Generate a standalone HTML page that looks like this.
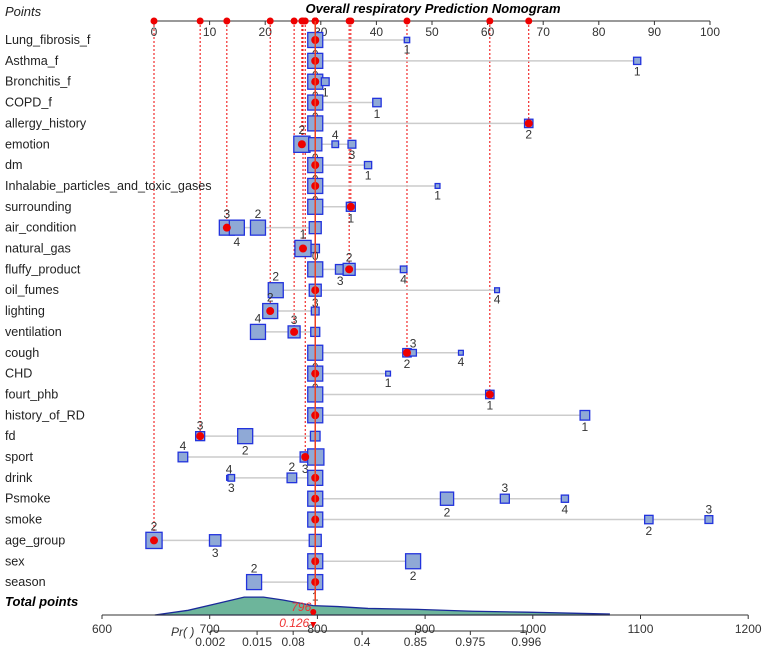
<!DOCTYPE html>
<html><head><meta charset="utf-8"><style>
body{margin:0;background:#fff}
svg{display:block;font-family:"Liberation Sans",sans-serif}
</style></head><body>
<svg id="c" width="767" height="650"></svg>
<script>
const rowNames=["Lung_fibrosis_f","Asthma_f","Bronchitis_f","COPD_f","allergy_history","emotion","dm","Inhalabie_particles_and_toxic_gases","surrounding","air_condition","natural_gas","fluffy_product","oil_fumes","lighting","ventilation","cough","CHD","fourt_phb","history_of_RD","fd","sport","drink","Psmoke","smoke","age_group","sex","season"];
// levels per row: [label, points, size(0-1), labelPos(1 below,-1 above,0 none)]
const rowLevels=[
[["0",29,1,1],["1",45.5,0.2,1]],
[["0",29,1,1],["1",86.9,0.35,1]],
[["0",29,1,1],["1",30.8,0.4,1]],
[["0",29,1,1],["1",40.1,0.45,1]],
[["1",29,1,0],["2",67.4,0.45,1]],
[["2",26.6,1.1,-1],["0",29,0.85,1],["4",32.6,0.3,-1],["3",35.6,0.4,1]],
[["0",29,1,1],["1",38.5,0.35,1]],
[["0",29,1,1],["1",51,0.15,1]],
[["0",29,1,0],["1",35.4,0.5,1]],
[["3",13.1,1,-1],["4",14.9,1,1],["2",18.7,1,-1],["1",29,0.75,0]],
[["1",26.8,1.1,-1],["0",29,0.45,0]],
[["0",29,1,-1],["3",33.5,0.55,1],["2",35.1,0.75,-1],["4",44.9,0.3,1]],
[["2",21.9,1,-1],["3",29,0.75,1],["4",61.7,0.15,1]],
[["2",20.9,1,-1],["1",29,0.4,0]],
[["4",18.7,1,-1],["3",25.2,0.75,-1],["1",29,0.5,0]],
[["0",29,1,1],["2",45.5,0.45,1],["3",46.6,0.3,-1],["4",55.2,0.15,1]],
[["0",29,1,1],["1",42.1,0.15,1]],
[["0",29,1,0],["1",60.4,0.45,1]],
[["0",29,1,0],["1",77.5,0.55,1]],
[["3",8.3,0.5,-1],["2",16.4,1,1],["1",29,0.55,0]],
[["4",5.2,0.55,-1],["3",27.2,0.6,1],["2",29.1,1.1,0]],
[["4",13.5,0.15,-1],["3",13.9,0.3,1],["2",24.8,0.55,-1],["1",29,1,0]],
[["1",29,1,0],["2",52.7,0.85,1],["3",63.1,0.5,-1],["4",73.9,0.35,1]],
[["1",29,1,0],["2",89,0.45,1],["3",99.8,0.4,-1]],
[["2",0,1.1,-1],["3",11,0.7,1],["1",29,0.75,0]],
[["1",29,1,0],["2",46.6,1,1]],
[["2",18,1,-1],["1",29,1,1]]];
const redPoints=[29,29,29,29,67.4,26.6,29,29,35.4,13.1,26.8,35.1,29,20.9,25.2,45.5,29,60.4,29,8.3,27.2,29,29,29,0,29,29];
const pointTicks=[0,10,20,30,40,50,60,70,80,90,100];
const totalTicks=[600,700,800,900,1000,1100,1200];
const prTicks=["0.002","0.015","0.08","0.4","0.85","0.975","0.996"];
const prPos=[700.5,744,777.5,841.5,891,942,994];
const densX=[649,680,708,732,750,768,782,796,819,847,893,944,995,1071];
const densY=[0,0.1,0.25,0.38,0.38,0.32,0.26,0.2,0.18,0.14,0.12,0.08,0.06,0.02];
const totalValue=796, prValue="0.126";

const S=document.getElementById('c'),NS="http://www.w3.org/2000/svg";
function el(t,a,txt){const e=document.createElementNS(NS,t);for(const k in a)e.setAttribute(k,a[k]);if(txt!=null)e.textContent=txt;S.appendChild(e);return e;}
const px=p=>154+p*5.56, ry=i=>40+i*20.85, tx=v=>102+(v-600)*1.077, dy=d=>615-d*47;
const AY=21;
let t=el('text',{x:5,y:16,'font-size':13,'font-style':'italic',fill:'#222'},"Points");

t=el('text',{x:433,y:13,'font-size':13,'font-weight':'bold','font-style':'italic','text-anchor':'middle'},"Overall respiratory Prediction Nomogram");

let l=el('line',{x1:px(0),x2:px(100),y1:AY,y2:AY,stroke:'#333'});

pointTicks.forEach(v=>{
 el('line',{x1:px(v),x2:px(v),y1:AY,y2:AY+4,stroke:'#333'});
 const e=el('text',{x:px(v),y:36,'font-size':12,'text-anchor':'middle',fill:'#333'},v);
 
});
redPoints.forEach((p,i)=>{
 const d=el('line',{x1:px(p),x2:px(p),y1:AY,y2:ry(i),stroke:'#e00','stroke-dasharray':'2,2','stroke-width':1});
 
});
rowNames.forEach((n,i)=>{
 const y=ry(i);
 const e=el('text',{x:5,y:y+4,'font-size':12.6,fill:'#222'},n);
 
 const lv=rowLevels[i];const xs=lv.map(a=>px(a[1]));
 el('line',{x1:Math.min(...xs),x2:Math.max(...xs),y1:y,y2:y,stroke:'#ccc','stroke-width':1.5});
 lv.forEach(a=>{
  const s=3+a[2]*12,x=px(a[1]);
  const r=el('rect',{x:x-s/2,y:y-s/2,width:s,height:s,fill:'#8fa9d6',stroke:'#2233dd','stroke-width':1.3});
  
  if(a[3]){const lb=el('text',{x:x,y:a[3]>0?y+s/2+11:y-s/2-2,'font-size':12,'text-anchor':'middle',fill:'#333'},a[0]);
   }
 });
 const dot=el('circle',{cx:px(redPoints[i]),cy:y,r:4,fill:'#e00'});
 
 const ad=el('circle',{cx:px(redPoints[i]),cy:AY,r:3.5,fill:'#e00'});
 
});
l=el('line',{x1:px(29),x2:px(29),y1:AY,y2:615,stroke:'#f04020','stroke-width':1.5});

t=el('text',{x:5,y:606,'font-size':13,'font-weight':'bold','font-style':'italic'},"Total points");

let pts=densX.map((v,i)=>tx(v)+','+dy(densY[i])).join(' ');
const dp=el('polygon',{points:tx(densX[0])+',615 '+pts+' '+tx(densX[densX.length-1])+',615',fill:'#6db59b',stroke:'#1a2a9a','stroke-width':1.3});

l=el('line',{x1:tx(600),x2:tx(1200),y1:615,y2:615,stroke:'#333'});

totalTicks.forEach(v=>{
 el('line',{x1:tx(v),x2:tx(v),y1:615,y2:619,stroke:'#333'});
 const e=el('text',{x:tx(v),y:633,'font-size':12,'text-anchor':'middle',fill:'#333'},v);
 
});
l=el('line',{x1:tx(prPos[0]),x2:tx(prPos[prPos.length-1]),y1:631,y2:631,stroke:'#333'});

prTicks.forEach((v,i)=>{
 el('line',{x1:tx(prPos[i]),x2:tx(prPos[i]),y1:631,y2:635,stroke:'#333'});
 const e=el('text',{x:tx(prPos[i]),y:646,'font-size':12,'text-anchor':'middle',fill:'#333'},v);
 
});
t=el('text',{x:171,y:636,'font-size':12,'font-style':'italic',fill:'#333'},"Pr( )");

const mx=px(29)-2;
t=el('text',{x:mx-12,y:611,'font-size':12,'font-style':'italic',fill:'#e33','text-anchor':'middle'},totalValue);

el('circle',{cx:mx,cy:612,r:3,fill:'#e00'});
t=el('text',{x:mx-4,y:627,'font-size':12,'font-style':'italic',fill:'#e33','text-anchor':'end'},prValue);

el('path',{d:`M${mx-3},622 L${mx+3},622 L${mx},628 Z`,fill:'#e00'});
</script>
</body></html>
